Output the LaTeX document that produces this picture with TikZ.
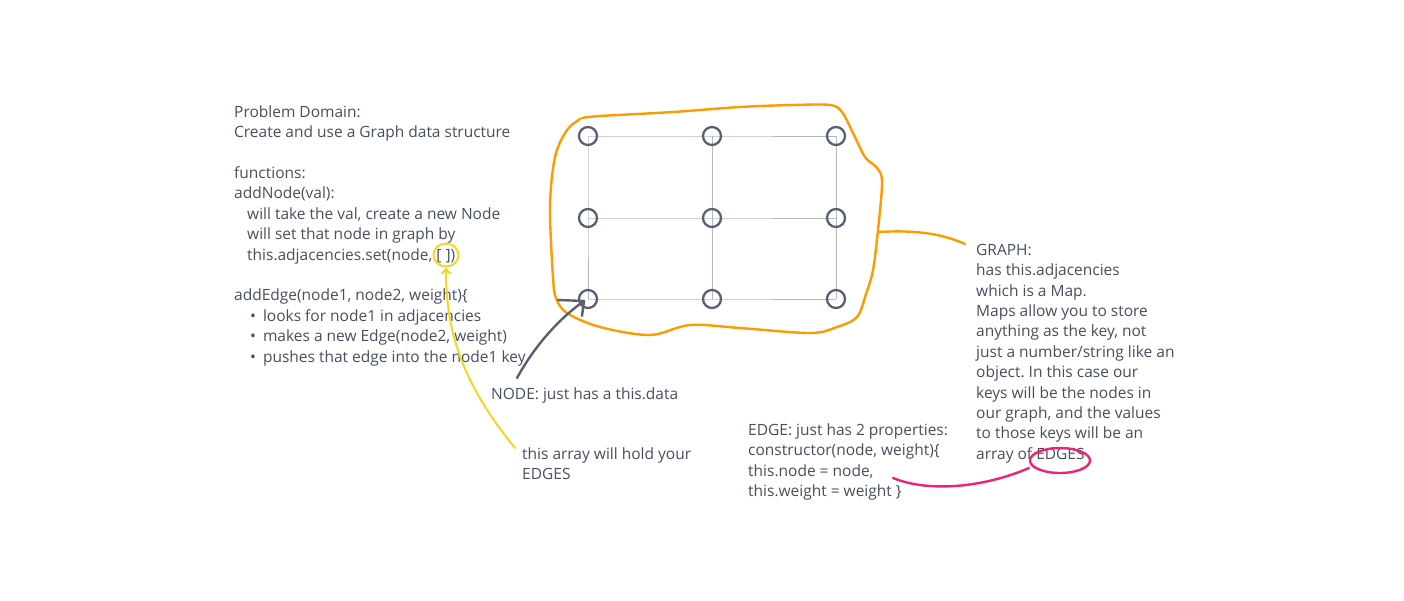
\documentclass[tikz,border=0pt]{standalone}
\usepackage{fontspec}
\setmainfont{Open Sans}
\frenchspacing
\usetikzlibrary{arrows.meta,shapes.geometric,backgrounds}
\definecolor{txt}{HTML}{474E5F}
\definecolor{gridc}{HTML}{B4B8C4}
\definecolor{circc}{HTML}{596072}
\definecolor{orng}{HTML}{FF9A00}
\definecolor{yel}{HTML}{F8D520}
\definecolor{pnk}{HTML}{EE2378}
\newcommand{\firstln}{\rule{0pt}{15pt}}
\tikzset{
  label text/.style={text=txt, align=left, inner sep=0pt, anchor=north west,
    font=\fontsize{15.5}{20.4}\selectfont},
  gnode/.style={circle, draw=circc, line width=2.3pt, minimum size=18pt, inner sep=0pt},
  gridline/.style={draw=gridc, line width=1pt},
  blob/.style={draw=orng, line width=2.4pt, line cap=round, line join=round},
  yelline/.style={draw=yel, line width=2pt, line cap=round},
  darkline/.style={draw=circc, line width=2.4pt, line cap=round},
  pinkline/.style={draw=pnk, line width=2.4pt, line cap=round},
}
\begin{document}
\begin{tikzpicture}[x=1pt,y=-1pt]
\useasboundingbox (0,0) rectangle (1404,600);

% text blocks
\node[label text] (prob) at (234,102) {\firstln Problem Domain:\\
Create and use a Graph data structure\\[20.4pt]
functions:\\
addNode(val):\\
\hspace*{13pt}will take the val, create a new Node\\
\hspace*{13pt}will set that node in graph by\\
\hspace*{13pt}this.adjacencies.set(node, [ ])\\[20.4pt]
addEdge(node1, node2, weight)\{\\
\hspace*{16pt}•\hspace*{7pt}looks for node1 in adjacencies\\
\hspace*{16pt}•\hspace*{7pt}makes a new Edge(node2, weight)\\
\hspace*{16pt}•\hspace*{7pt}pushes that edge into the node1 key};

\node[label text] (nodetxt) at (491,384) {\firstln NODE: just has a this.data};
\node[label text] (arrtxt) at (522,444) {\firstln this array will hold your\\EDGES};
\node[label text] (edgetxt) at (748,420) {\firstln EDGE: just has 2 properties:\\
constructor(node, weight)\{\\
this.node = node,\\
this.weight = weight \}};
\node[label text] (graphtxt) at (976,240) {\firstln GRAPH:\\
has this.adjacencies\\
which is a Map.\\
Maps allow you to store\\
anything as the key, not\\
just a number/string like an\\
object. In this case our\\
keys will be the nodes in\\
our graph, and the values\\
to those keys will be an\\
array of EDGES};

% graph nodes
\node[gnode] (n11) at (588,136) {};
\node[gnode] (n12) at (712,136) {};
\node[gnode] (n13) at (836,136) {};
\node[gnode] (n21) at (588,218) {};
\node[gnode] (n22) at (712,218) {};
\node[gnode] (n23) at (836,218) {};
\node[gnode] (n31) at (588,299) {};
\node[gnode] (n32) at (712,299) {};
\node[gnode] (n33) at (836,299) {};

\begin{pgfonlayer}{background}
\draw[gridline] (n11.center) -- (n12.center) -- (n13.center);
\draw[gridline] (n21.center) -- (n22.center) -- (n23.center);
\draw[gridline] (n31.center) -- (n32.center) -- (n33.center);
\draw[gridline] (n11.center) -- (n21.center) -- (n31.center);
\draw[gridline] (n12.center) -- (n22.center) -- (n32.center);
\draw[gridline] (n13.center) -- (n23.center) -- (n33.center);
\end{pgfonlayer}

% orange blob
\draw[blob] plot[smooth, tension=0.55] coordinates {
 (582,118) (600,116) (673,112) (740,107) (793,105) (830,105) (842,112)
 (853,133) (865,157) (877,168) (882,182) (878,230) (873,270) (866,294)
 (857,317) (837,327) (810,333) (740,328) (690,325) (650,335) (600,327)
 (567,313) (556,298) (553,277) (550,207) (555,157) (567,130) (580,119) (577,121)};
\coordinate (blobR) at (878,232);
\coordinate (graphIn) at (965,244);
\draw[blob] (blobR) .. controls (915,230) and (940,233) .. (graphIn);

% yellow highlight
\node[ellipse, draw=yel, line width=2pt, minimum width=25pt, minimum height=23pt, inner sep=0pt] (brk) at (446,255) {};
\coordinate (arrStart) at (515,448);
\draw[yelline, -{Straight Barb[length=5pt,width=9pt]}] (arrStart) .. controls (455,375) and (446,320) .. (brk.south);

% dark arrow to node
\coordinate (nodeStart) at (517,378);
\coordinate (tip) at ([shift={(-4,2)}]n31.center);
\draw[darkline] (nodeStart) .. controls (535,345) and (560,318) .. (tip);
\draw[darkline] (tip) -- (558,300);
\draw[darkline] (tip) -- (582,316);

% pink highlight
\node[ellipse, draw=pnk, line width=2.4pt, minimum width=60pt, minimum height=25pt, inner sep=0pt] (edg) at (1060,460.5) {};
\coordinate (pinkStart) at (1029,468);
\coordinate (pinkEnd) at (893,478);
\draw[pinkline] (pinkStart) .. controls (985,487) and (930,493) .. (pinkEnd);
\end{tikzpicture}
\end{document}
